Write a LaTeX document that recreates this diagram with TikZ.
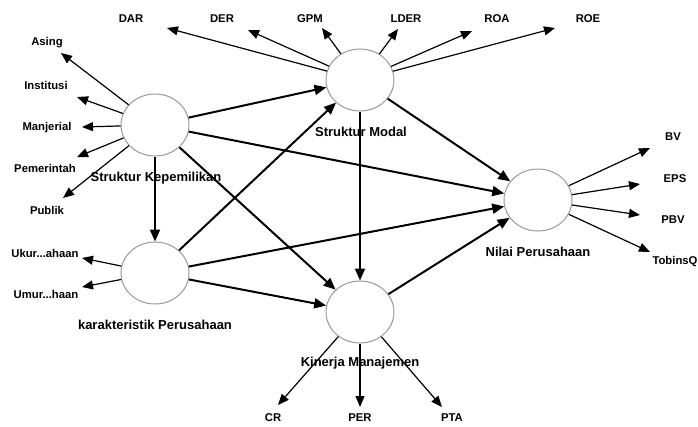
\documentclass[tikz,border=0pt]{standalone}
\usepackage{fontspec}
\setmainfont{Liberation Sans}
\usetikzlibrary{arrows.meta,shapes.geometric}
\begin{document}
\begin{tikzpicture}[x=1pt,y=-1pt,
  latent/.style={ellipse,draw=black!40,line width=1pt,fill=white,minimum width=68pt,minimum height=62pt,inner sep=0pt},
  ind/.style={font=\bfseries\fontsize{11.3}{12}\selectfont,inner sep=1pt},
  lname/.style={font=\bfseries\fontsize{13}{14}\selectfont,inner sep=1pt},
  indarrow/.style={line width=1.2pt,-{Triangle[length=11pt,width=9pt]}},
  patharrow/.style={line width=2pt,-{Triangle[length=12pt,width=10pt]}}]
\useasboundingbox (0,0) rectangle (698,426);
\fill[white] (0,0) rectangle (698,426);
% indicator labels
\node[ind] (DAR) at (131,19) {DAR};
\node[ind] (DER) at (222,19) {DER};
\node[ind] (GPM) at (310,19) {GPM};
\node[ind] (LDER) at (406,19) {LDER};
\node[ind] (ROA) at (497,19) {ROA};
\node[ind] (ROE) at (588,19) {ROE};
\node[ind] (Asing) at (47,43) {Asing};
\node[ind] (Inst) at (46,85) {Institusi};
\node[ind] (Manj) at (47,128) {Manjerial};
\node[ind] (Pem) at (45,168) {Pemerintah};
\node[ind] (Pub) at (47,210) {Publik};
\node[ind] (Ukur) at (45,253) {Ukur...ahaan};
\node[ind] (Umur) at (46,294) {Umur...haan};
\node[ind] (CR) at (273,418) {CR};
\node[ind] (PER) at (360,418) {PER};
\node[ind] (PTA) at (452,418) {PTA};
\node[ind] (BV) at (673,137) {BV};
\node[ind] (EPS) at (675,179) {EPS};
\node[ind] (PBV) at (673,220) {PBV};
\node[ind] (TQ) at (675,262) {TobinsQ};
% latent labels
\node[lname] (lSK) at (156,178) {Struktur Kepemilikan};
\node[lname] (lSM) at (361,132) {Struktur Modal};
\node[lname] (lKP) at (155,325) {karakteristik Perusahaan};
\node[lname] (lKM) at (360,363) {Kinerja Manajemen};
\node[lname] (lNP) at (538,252) {Nilai Perusahaan};
% latent circles
\node[latent] (SK) at (155,125) {};
\node[latent] (SM) at (360,80) {};
\node[latent] (KP) at (155,273) {};
\node[latent] (KM) at (360,312) {};
\node[latent] (NP) at (538,200) {};
% arrow tip coordinates
\coordinate (tDAR) at (167,28);
\coordinate (tDER) at (248,30);
\coordinate (tGPM) at (322,28);
\coordinate (tLDER) at (398,29);
\coordinate (tROA) at (472,31);
\coordinate (tROE) at (555,28);
\coordinate (tAsing) at (61,53);
\coordinate (tInst) at (77,97);
\coordinate (tManj) at (82,127);
\coordinate (tPem) at (77,157);
\coordinate (tPub) at (63,198);
\coordinate (tUkur) at (82,258);
\coordinate (tUmur) at (82,287);
\coordinate (tCR) at (278,405);
\coordinate (tPER) at (360,407);
\coordinate (tPTA) at (442,407);
\coordinate (tBV) at (650,148);
\coordinate (tEPS) at (640,184);
\coordinate (tPBV) at (640,215);
\coordinate (tTQ) at (650,252);
% indicator arrows
\foreach \t in {DAR,DER,GPM,LDER,ROA,ROE} \draw[indarrow] (SM) -- (t\t);
\foreach \t in {Asing,Inst,Manj,Pem,Pub} \draw[indarrow] (SK) -- (t\t);
\foreach \t in {Ukur,Umur} \draw[indarrow] (KP) -- (t\t);
\foreach \t in {CR,PER,PTA} \draw[indarrow] (KM) -- (t\t);
\foreach \t in {BV,EPS,PBV,TQ} \draw[indarrow] (NP) -- (t\t);
% structural arrows
\draw[patharrow] (SK) -- (SM);
\draw[patharrow] (SK) -- (NP);
\draw[patharrow] (SK) -- (KP);
\draw[patharrow] (SK) -- (KM);
\draw[patharrow] (KP) -- (SM);
\draw[patharrow] (KP) -- (NP);
\draw[patharrow] (KP) -- (KM);
\draw[patharrow] (SM) -- (NP);
\draw[patharrow] (SM) -- (KM);
\draw[patharrow] (KM) -- (NP);
\end{tikzpicture}
\end{document}
